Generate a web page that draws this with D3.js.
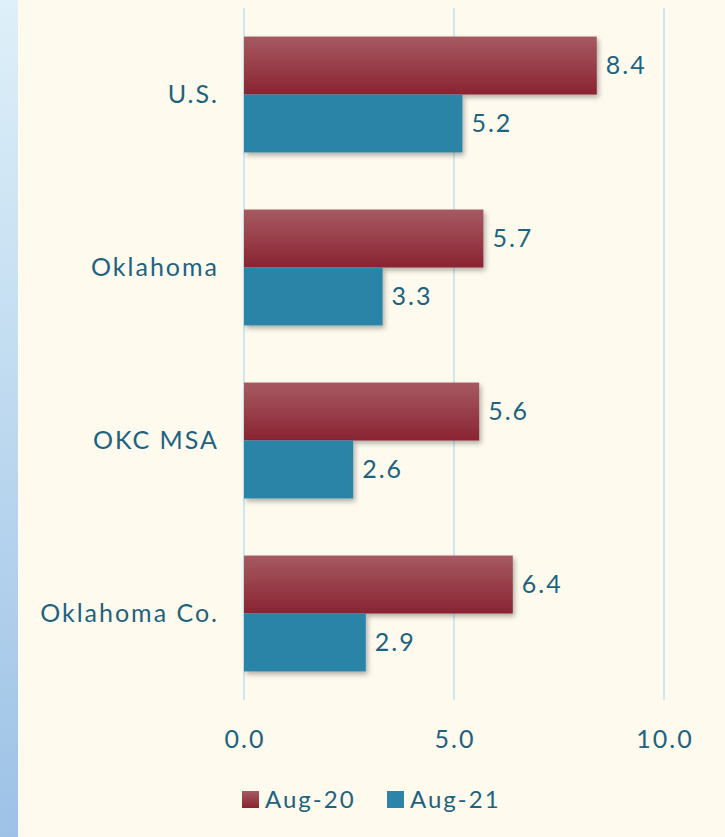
<!DOCTYPE html>
<html>
<head>
<meta charset="utf-8">
<script src="https://cdn.jsdelivr.net/npm/d3@7"></script>
<style>
  body { margin: 0; background: #fefaee; }
  text { font-family: "Century Gothic", Futura, Lato, "Noto Sans", sans-serif; fill: #1d6380; letter-spacing: 2px; }
</style>
</head>
<body>
<div id="chart"></div>
<script>
// data
const categories = ['U.S.', 'Oklahoma', 'OKC MSA', 'Oklahoma Co.'];
const seriesNames = ['Aug-20', 'Aug-21'];
const aug20 = [8.4, 5.7, 5.6, 6.4];
const aug21 = [5.2, 3.3, 2.6, 2.9];
const tickValues = [0, 5, 10];

const W = 725, H = 837;
const margin = { top: 8, left: 244, right: 61, bottom: 137 };
const width = W - margin.left - margin.right,
  height = H - margin.top - margin.bottom;

const rows = categories.map((c, i) => ({ cat: c, vals: [aug20[i], aug21[i]] }));

const svg = d3.select('#chart').append('svg')
  .attr('width', W).attr('height', H);

const defs = svg.append('defs');
const strip = defs.append('linearGradient').attr('id', 'strip')
  .attr('x1', 0).attr('y1', 0).attr('x2', 0).attr('y2', 1);
strip.append('stop').attr('offset', 0).attr('stop-color', '#def0f9');
strip.append('stop').attr('offset', 1).attr('stop-color', '#9dc2e6');

const red = defs.append('linearGradient').attr('id', 'red')
  .attr('x1', 0).attr('y1', 0).attr('x2', 0).attr('y2', 1);
red.append('stop').attr('offset', 0).attr('stop-color', '#a65a62');
red.append('stop').attr('offset', 1).attr('stop-color', '#8a2332');

const shadow = defs.append('filter').attr('id', 'shadow')
  .attr('x', '-5%').attr('y', '-10%').attr('width', '115%').attr('height', '130%');
shadow.append('feDropShadow').attr('dx', 2).attr('dy', 3).attr('stdDeviation', 2.5)
  .attr('flood-color', '#000').attr('flood-opacity', 0.3);

svg.append('rect').attr('width', W).attr('height', H).attr('fill', '#fefaee');
svg.append('rect').attr('width', 18).attr('height', H).attr('fill', 'url(#strip)');

const colors = ['url(#red)', '#2c84a8'];

const g = svg.append('g')
  .attr('transform', 'translate(' + margin.left + ',' + margin.top + ')');

const x = d3.scaleLinear().domain([0, 10]).range([0, 420]);
const y = d3.scaleBand().domain(categories).range([0, height]).paddingInner(0.33).paddingOuter(0.165);
const ySub = d3.scaleBand().domain([0, 1]).range([0, y.bandwidth()]);

// gridlines
g.selectAll('.grid').data(tickValues).enter().append('line')
  .attr('x1', d => x(d)).attr('x2', d => x(d))
  .attr('y1', 0).attr('y2', height)
  .attr('stroke', '#cfe7ef').attr('stroke-width', 2);

// x tick labels
g.selectAll('.tick').data(tickValues).enter().append('text')
  .attr('x', d => x(d) + 1).attr('y', height + 48)
  .attr('text-anchor', 'middle')
  .style('font-size', '25px')
  .text(d => d3.format('.1f')(d));

// category labels
g.selectAll('.cat').data(categories).enter().append('text')
  .attr('x', -25).attr('y', d => y(d) + y.bandwidth() / 2)
  .attr('dy', '0.35em').attr('text-anchor', 'end')
  .style('font-size', '25px')
  .text(d => d);

const groups = g.selectAll('.row').data(rows).enter().append('g')
  .attr('transform', d => 'translate(0,' + y(d.cat) + ')');

groups.selectAll('rect').data(d => d.vals).enter().append('rect')
  .attr('x', x(0)).attr('y', (d, i) => ySub(i))
  .attr('width', d => x(d) - x(0)).attr('height', ySub.bandwidth())
  .attr('fill', (d, i) => colors[i])
  .attr('filter', 'url(#shadow)');

groups.selectAll('.val').data(d => d.vals).enter().append('text')
  .attr('x', d => x(d) + 9).attr('y', (d, i) => ySub(i) + ySub.bandwidth() / 2)
  .attr('dy', '0.35em')
  .style('font-size', '25px')
  .text(d => d3.format('.1f')(d));

// legend
const legend = svg.append('g').attr('transform', 'translate(242,791)');
const items = legend.selectAll('g').data(seriesNames).enter().append('g')
  .attr('transform', (d, i) => 'translate(' + (i * 145) + ',0)');
items.append('rect').attr('width', 17).attr('height', 17)
  .attr('fill', (d, i) => colors[i]);
items.append('text').attr('x', 23).attr('y', 9).attr('dy', '0.35em')
  .style('font-size', '24px')
  .text(d => d);
</script>
</body>
</html>
